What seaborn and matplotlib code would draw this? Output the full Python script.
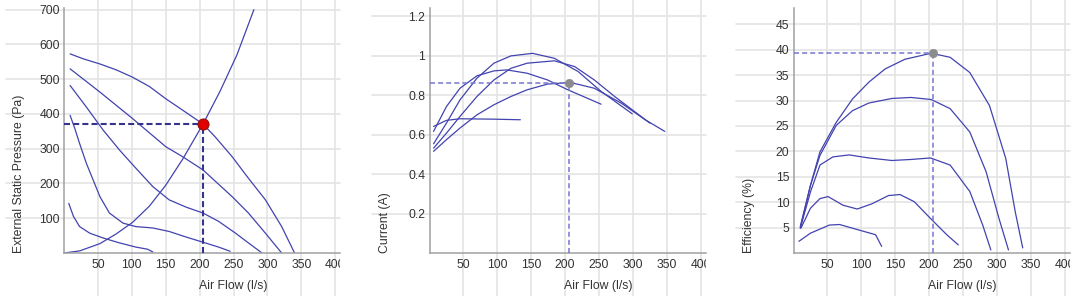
import numpy as np
import pandas as pd
import matplotlib
matplotlib.use("Agg")
import matplotlib.pyplot as plt
import matplotlib.ticker as mticker
from matplotlib.transforms import Bbox, TransformedBbox
import seaborn as sns

# ---------------------------------------------------------------------------
# Data (air flow in l/s)
# ---------------------------------------------------------------------------

# external static pressure (Pa), one curve per fan speed
esp_flow_a = [9, 28, 53, 77, 101, 126, 150, 175, 205, 223, 248, 272, 297, 321, 340]
esp_a = [573, 559, 544, 527, 506, 479, 444, 411, 371, 334, 277, 215, 153, 76, 0]
esp_flow_b = [9, 53, 101, 150, 175, 205, 248, 272, 297, 321]
esp_b = [530, 463, 387, 306, 277, 239, 162, 115, 57, 0]
esp_flow_c = [9, 33, 58, 82, 106, 131, 155, 180, 205, 228, 253, 272, 292]
esp_c = [482, 420, 353, 296, 244, 191, 153, 132, 115, 91, 57, 29, 0]
esp_flow_d = [9, 16, 23, 33, 43, 53, 67, 87, 106, 131, 155, 180, 205, 228, 245]
esp_d = [396, 358, 315, 258, 210, 162, 115, 86, 76, 72, 62, 46, 31, 17, 5]
esp_flow_e = [7, 14, 23, 38, 58, 82, 106, 123, 131]
esp_e = [143, 105, 76, 57, 43, 29, 17, 11, 3]

# system curve
sys_flow = [0, 23, 53, 77, 101, 126, 150, 175, 205, 230, 255, 280]
sys_pa = [0, 6, 27, 55, 88, 135, 195, 270, 371, 465, 570, 700]

# current (A)
cur_flow_a = [6, 25, 45, 70, 95, 120, 144, 174, 208, 243, 283, 318, 347]
cur_a = [0.516, 0.575, 0.634, 0.701, 0.752, 0.794, 0.828, 0.857, 0.865,
         0.836, 0.760, 0.676, 0.617]
cur_flow_b = [6, 25, 45, 70, 95, 120, 144, 184, 214, 243, 273, 325]
cur_b = [0.532, 0.608, 0.693, 0.794, 0.878, 0.937, 0.963, 0.975, 0.946,
         0.878, 0.794, 0.659]
cur_flow_c = [6, 25, 45, 70, 95, 120, 152, 184, 219, 253, 299]
cur_c = [0.554, 0.659, 0.777, 0.887, 0.963, 1.000, 1.013, 0.988, 0.921,
         0.820, 0.706]
cur_flow_d = [6, 25, 45, 70, 95, 114, 144, 174, 204, 253]
cur_d = [0.617, 0.743, 0.836, 0.899, 0.924, 0.929, 0.912, 0.878, 0.828, 0.755]
cur_flow_e = [6, 25, 45, 95, 134]
cur_e = [0.642, 0.673, 0.681, 0.679, 0.676]

# efficiency (%)
eff_flow_a = [10, 25, 39, 63, 87, 111, 135, 164, 203, 231, 260, 289, 313, 327, 338]
eff_a = [4.9, 13.3, 19.9, 25.7, 30.3, 33.6, 36.2, 38.1, 39.3, 38.5, 35.5,
         29.0, 18.6, 8.1, 1.0]
eff_flow_b = [10, 25, 39, 63, 87, 111, 145, 173, 203, 231, 260, 284, 303, 317]
eff_b = [5.2, 13.3, 19.2, 25.1, 28.0, 29.5, 30.4, 30.6, 30.2, 28.4, 23.8,
         16.0, 6.8, 0.6]
eff_flow_c = [10, 25, 39, 58, 82, 111, 145, 173, 202, 231, 260, 279, 291]
eff_c = [4.9, 12.0, 17.3, 18.9, 19.3, 18.7, 18.2, 18.4, 18.7, 17.3, 12.1, 5.5, 0.6]
eff_flow_d = [11, 25, 39, 51, 73, 94, 116, 140, 157, 178, 202, 226, 243]
eff_d = [4.9, 8.8, 10.7, 11.1, 9.4, 8.65, 9.7, 11.3, 11.5, 10.1, 6.8, 3.6, 1.6]
eff_flow_e = [8, 25, 53, 68, 97, 121, 130]
eff_e = [2.3, 3.9, 5.5, 5.6, 4.5, 3.6, 1.3]

# duty point
duty_flow = 205
duty_pa = 372
duty_current = 0.865
duty_eff = 39.3

x_ticks = [50, 100, 150, 200, 250, 300, 350, 400]
esp_ticks = [100, 200, 300, 400, 500, 600, 700]
cur_ticks = [0.2, 0.4, 0.6, 0.8, 1.0, 1.2]
eff_ticks = [5, 10, 15, 20, 25, 30, 35, 40, 45]


def curves_frame(pairs):
    rows = []
    for i, (fx, fy) in enumerate(pairs):
        rows.append(pd.DataFrame({"flow": fx, "val": fy, "curve": i}))
    return pd.concat(rows, ignore_index=True)


CURVE = "#4343b0"
GRID = "#e4e4e4"
AXIS = "#a0a0a0"
TEXT = "#333333"
FS = 8.8

sns.set_style("white")
plt.rcParams["font.family"] = ["Liberation Sans", "DejaVu Sans"]
plt.rcParams["font.size"] = FS

fig = plt.figure(figsize=(10.8, 2.96), dpi=100)
W, H = 1080, 296


def make_axes(left_px):
    return fig.add_axes([left_px / W, (H - 253) / H, 276 / W, 245 / H])


def style(ax, ylim, yticks, yminor, ylabel):
    ax.set_xlim(0, 407)
    ax.set_ylim(*ylim)
    ax.set_xticks(x_ticks)
    ax.set_yticks(yticks)
    ax.xaxis.set_minor_locator(mticker.MultipleLocator(10))
    ax.yaxis.set_minor_locator(mticker.MultipleLocator(yminor))
    ax.yaxis.set_major_formatter(mticker.FuncFormatter(lambda v, p: f"{v:g}"))
    ax.tick_params(which="major", length=0, labelsize=FS, labelcolor=TEXT)
    ax.tick_params(axis="x", which="major", pad=4)
    ax.tick_params(axis="y", which="major", pad=3)
    ax.tick_params(axis="x", which="minor", direction="out", length=2.5,
                   width=0.8, color="#c4c4c4")
    ax.tick_params(axis="y", which="minor", direction="in", length=3,
                   width=0.8, color="#c4c4c4")
    for s in ["top", "right"]:
        ax.spines[s].set_visible(False)
    for s in ["left", "bottom"]:
        ax.spines[s].set_color(AXIS)
        ax.spines[s].set_linewidth(1.1)
    # gridlines run past the plot area, as in the reference
    for x in x_ticks:
        ax.axvline(x, ymin=-0.2, ymax=1.05, clip_on=False, color=GRID,
                   lw=1.2, zorder=0)
    for y in yticks:
        ax.axhline(y, xmin=-0.21, xmax=1, clip_on=False, color=GRID,
                   lw=1.2, zorder=0)
    ax.set_xlabel("Air Flow (l/s)", fontsize=FS, color=TEXT)
    ax.xaxis.set_label_coords(0.612, -0.11)
    ax.set_ylabel(ylabel, fontsize=FS, color=TEXT)
    ax.yaxis.label.set_horizontalalignment("left")
    ax.yaxis.set_label_coords(-0.141, 0.0)
    # the "400" label is cut off at the right edge of the plot
    clip = TransformedBbox(Bbox([[-1, -1], [1.0, 2]]), ax.transAxes)
    for tick in ax.xaxis.get_major_ticks():
        tick.label1.set_clip_box(clip)
        tick.label1.set_clip_on(True)


def draw_curves(ax, pairs):
    df = curves_frame(pairs)
    sns.lineplot(data=df, x="flow", y="val", units="curve", estimator=None,
                 sort=False, color=CURVE, lw=0.9, legend=False, ax=ax)


# ---------------------------------------------------------------------------
# 1. External static pressure
# ---------------------------------------------------------------------------
ax1 = make_axes(64)
draw_curves(ax1, [(esp_flow_a, esp_a), (esp_flow_b, esp_b), (esp_flow_c, esp_c),
                  (esp_flow_d, esp_d), (esp_flow_e, esp_e), (sys_flow, sys_pa)])
ax1.hlines(duty_pa, 0, duty_flow, color="#34348c", lw=1.5,
           linestyles=(0, (2.9, 1.5)), zorder=3)
ax1.vlines(duty_flow, 0, duty_pa, color="#34348c", lw=1.5,
           linestyles=(0, (2.9, 1.5)), zorder=3)
sns.scatterplot(x=[duty_flow], y=[duty_pa], s=64, color="#e00000",
                edgecolor="#8a1010", linewidth=0.7, zorder=5, ax=ax1, legend=False)
style(ax1, (0, 705), esp_ticks, 20, "External Static Pressure (Pa)")

# ---------------------------------------------------------------------------
# 2. Current
# ---------------------------------------------------------------------------
ax2 = make_axes(429.5)
draw_curves(ax2, [(cur_flow_a, cur_a), (cur_flow_b, cur_b), (cur_flow_c, cur_c),
                  (cur_flow_d, cur_d), (cur_flow_e, cur_e)])
ax2.hlines(duty_current, 0, duty_flow, color="#7676d2", lw=1.1,
           linestyles=(0, (3.3, 2.0)), zorder=3)
ax2.vlines(duty_flow, 0, duty_current, color="#7676d2", lw=1.1,
           linestyles=(0, (3.3, 2.0)), zorder=3)
sns.scatterplot(x=[duty_flow], y=[duty_current], s=36, color="#8c8c8c",
                edgecolor="#8c8c8c", zorder=5, ax=ax2, legend=False)
style(ax2, (0, 1.243), cur_ticks, 0.04, "Current (A)")

# ---------------------------------------------------------------------------
# 3. Efficiency
# ---------------------------------------------------------------------------
ax3 = make_axes(793.5)
draw_curves(ax3, [(eff_flow_a, eff_a), (eff_flow_b, eff_b), (eff_flow_c, eff_c),
                  (eff_flow_d, eff_d), (eff_flow_e, eff_e)])
ax3.hlines(duty_eff, 0, duty_flow, color="#7676d2", lw=1.1,
           linestyles=(0, (3.3, 2.0)), zorder=3)
ax3.vlines(duty_flow, 0, duty_eff, color="#7676d2", lw=1.1,
           linestyles=(0, (3.3, 2.0)), zorder=3)
sns.scatterplot(x=[duty_flow], y=[duty_eff], s=36, color="#8c8c8c",
                edgecolor="#8c8c8c", zorder=5, ax=ax3, legend=False)
style(ax3, (0, 48.2), eff_ticks, 1, "Efficiency (%)")

fig.savefig("out.png", dpi=100)
